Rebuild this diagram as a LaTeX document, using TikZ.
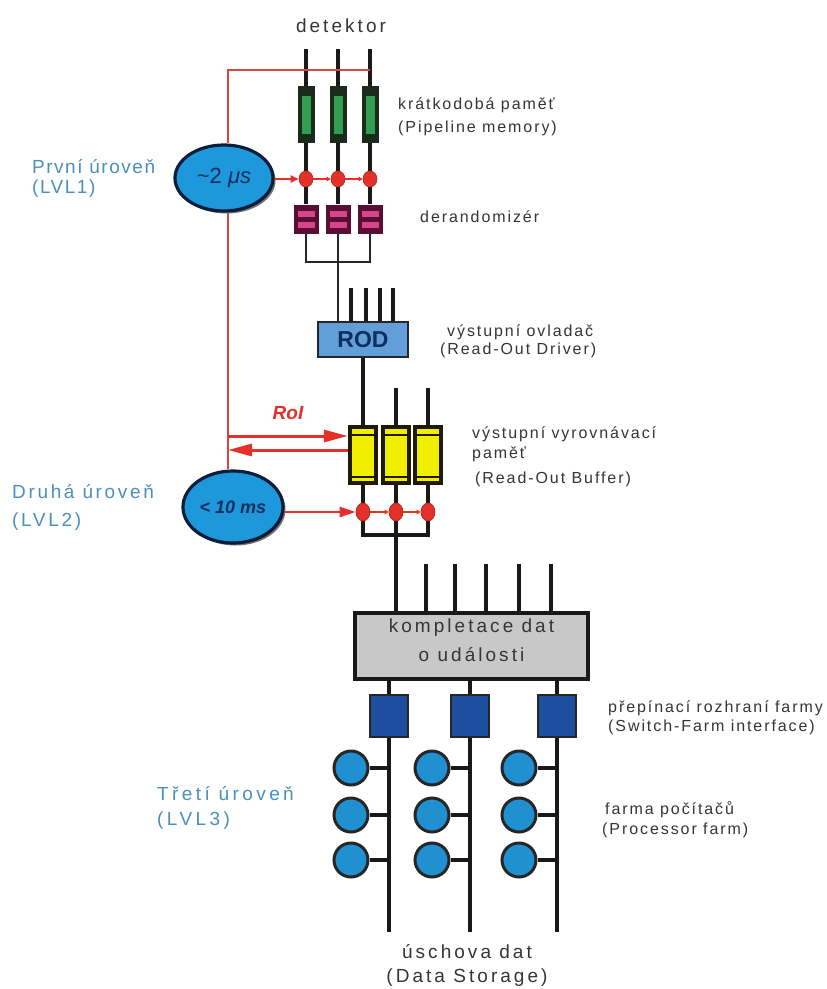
\documentclass[tikz,border=0pt]{standalone}
\usepackage{fontspec}
\setmainfont{Liberation Sans}
\newfontfamily\fR[LetterSpace=12]{Liberation Sans}
\newfontfamily\fW[LetterSpace=16]{Liberation Sans}
\newfontfamily\fN{Liberation Sans}
\usetikzlibrary{arrows.meta,shapes.geometric,shadows}
\definecolor{trig}{HTML}{E3302A}
\definecolor{trigl}{HTML}{D9463F}
\definecolor{lvlblue}{HTML}{4A90BA}
\definecolor{ellblue}{HTML}{1E98DA}
\definecolor{ellnavy}{HTML}{0A1E3A}
\definecolor{navy}{HTML}{0B2F5E}
\definecolor{pipeg}{HTML}{2FA050}
\definecolor{pipedark}{HTML}{1A2A1C}
\definecolor{derdark}{HTML}{5A0E33}
\definecolor{derpink}{HTML}{D6468A}
\definecolor{rodblue}{HTML}{629FD8}
\definecolor{robyel}{HTML}{F2EE00}
\definecolor{robdark}{HTML}{1E1A05}
\definecolor{boxgray}{HTML}{C8C8C8}
\definecolor{sfblue}{HTML}{1E4F9F}
\definecolor{farmblue}{HTML}{2090D0}
\definecolor{txt}{HTML}{353535}
\pgfdeclarelayer{bg}
\pgfsetlayers{bg,main}
\begin{document}
\begin{tikzpicture}[x=1pt,y=-1pt,
  wire/.style={line width=3.6pt, draw=black!90},
  thinwire/.style={line width=2.4pt, draw=black!85},
  redline/.style={line width=2.8pt, draw=trigl},
  redarrow/.style={line width=2pt, draw=trig, -{Triangle[length=8pt,width=7pt]}},
  tinyarrow/.style={line width=1.6pt, draw=trig, -{Triangle[length=4pt,width=4.5pt]}},
  roiarrow/.style={line width=3pt, draw=trig, -{Triangle[length=24pt,width=12pt]}},
  bigarrow/.style={line width=2.4pt, draw=trig, -{Triangle[length=16pt,width=10pt]}},
  lab/.style={inner sep=0pt, anchor=west, align=left, text=txt, font=\fR\fontsize{16}{18}\selectfont},
  lvllab/.style={inner sep=0pt, anchor=west, align=left, text=lvlblue},
  ttl/.style={inner sep=0pt, text=txt, font=\fW\fontsize{19}{24}\selectfont},
  pipe/.style={rectangle, inner sep=0pt, minimum width=17pt, minimum height=57pt, fill=pipedark,
    path picture={\fill[pipeg] ([xshift=4pt,yshift=-10pt]path picture bounding box.north west) rectangle ([xshift=-4pt,yshift=9pt]path picture bounding box.south east);}},
  der/.style={rectangle, inner sep=0pt, minimum width=25pt, minimum height=29pt, fill=derdark,
    path picture={\fill[derpink] ([xshift=4pt,yshift=-6pt]path picture bounding box.north west) rectangle ([xshift=-4pt,yshift=-12pt]path picture bounding box.north east);
      \fill[derpink] ([xshift=4pt,yshift=12pt]path picture bounding box.south west) rectangle ([xshift=-4pt,yshift=6pt]path picture bounding box.south east);}},
  rob/.style={rectangle, inner sep=0pt, minimum width=30pt, minimum height=60pt, fill=robdark,
    path picture={\fill[robyel] ([xshift=4pt,yshift=-4pt]path picture bounding box.north west) rectangle ([xshift=-4pt,yshift=4pt]path picture bounding box.south east);
      \draw[robdark, line width=1.2pt] ([xshift=4pt,yshift=-10pt]path picture bounding box.north west) -- ([xshift=-4pt,yshift=-10pt]path picture bounding box.north east);
      \draw[robdark, line width=1.2pt] ([xshift=4pt,yshift=8pt]path picture bounding box.south west) -- ([xshift=-4pt,yshift=8pt]path picture bounding box.south east);}},
  rdot/.style={ellipse, inner sep=0pt, minimum width=14pt, minimum height=16pt, fill=trig, draw=trig!75!black, line width=0.6pt},
  rdotb/.style={ellipse, inner sep=0pt, minimum width=14pt, minimum height=18pt, fill=trig, draw=trig!75!black, line width=0.6pt},
  rodbox/.style={rectangle, inner sep=0pt, minimum width=90pt, minimum height=35pt, fill=rodblue, draw=black!85, line width=2.4pt, text=navy, font=\fN\bfseries\fontsize{23}{24}\selectfont},
  evbox/.style={rectangle, inner sep=0pt, minimum width=233pt, minimum height=66pt, text depth=11pt, fill=boxgray, draw=black!90, line width=3.4pt, align=center, text=txt, font=\fW\fontsize{19}{29}\selectfont},
  sfbox/.style={rectangle, inner sep=0pt, minimum width=38pt, minimum height=42pt, fill=sfblue, draw=black!85, line width=1.8pt},
  farm/.style={circle, inner sep=0pt, minimum size=34pt, fill=farmblue, draw=black!85, line width=3pt},
  lvlell/.style={ellipse, inner sep=0pt, fill=ellblue, draw=ellnavy, line width=3.2pt, text=navy,
    drop shadow={shadow xshift=2.5pt, shadow yshift=-2.5pt, fill=black!55, opacity=1}},
  roilab/.style={inner sep=0pt, text=trig, font=\fN\bfseries\itshape\fontsize{19}{22}\selectfont}
]
\begin{pgfonlayer}{bg}
\fill[white] (0,0) rectangle (827,989);
\end{pgfonlayer}
\useasboundingbox (0,0) rectangle (827,989);

% ---------- detector part
\node[ttl] (det) at (341,26) {detektor};
\coordinate (d1) at (306,49);
\coordinate (d2) at (338,49);
\coordinate (d3) at (370,49);
\node[pipe] (p1) at (306,114.5) {};
\node[pipe] (p2) at (338,114.5) {};
\node[pipe] (p3) at (370,114.5) {};
\node[rdot] (a1) at (306,179) {};
\node[rdot] (a2) at (338,179) {};
\node[rdot] (a3) at (370,179) {};
\node[der] (q1) at (306,219) {};
\node[der] (q2) at (338,219) {};
\node[der] (q3) at (370,219) {};
\coordinate (j1) at (338,262);
\node[rodbox] (rod) at (363,339.5) {ROD};
\coordinate (ri1) at (351,288);
\coordinate (ri2) at (366,288);
\coordinate (ri3) at (380,288);
\coordinate (ri4) at (393,288);
\node[rob] (b1) at (363,455) {};
\node[rob] (b2) at (396,455) {};
\node[rob] (b3) at (428,455) {};
\coordinate (bi2) at (396,388);
\coordinate (bi3) at (428,388);
\node[rdotb] (e1) at (363,512) {};
\node[rdotb] (e2) at (396,512) {};
\node[rdotb] (e3) at (428,512) {};
\coordinate (j2) at (396,535);
\node[evbox] (evb) at (471.5,646) {kompletace dat\\o události};
\coordinate (ei1) at (426,564);
\coordinate (ei2) at (455,564);
\coordinate (ei3) at (486,564);
\coordinate (ei4) at (519,564);
\coordinate (ei5) at (551,564);
\node[sfbox] (s1) at (389,716) {};
\node[sfbox] (s2) at (470,716) {};
\node[sfbox] (s3) at (557,716) {};
\coordinate (o1) at (389,932);
\coordinate (o2) at (470,932);
\coordinate (o3) at (557,932);
\foreach \r/\y in {1/768,2/815,3/860}{
  \node[farm] (f1\r) at (351,\y) {};
  \node[farm] (f2\r) at (432,\y) {};
  \node[farm] (f3\r) at (519,\y) {};
}

% ---------- trigger ellipses
\node[lvlell, minimum width=98pt, minimum height=66pt, font=\fN\fontsize{22}{24}\selectfont] (l1) at (224,178) {\textasciitilde2 {\itshape μs}};
\node[lvlell, minimum width=100pt, minimum height=72pt, font=\fN\bfseries\itshape\fontsize{18}{20}\selectfont] (l2) at (233,507) {< 10 ms};
\node[roilab] (roi) at (288,413) {RoI};

% ---------- labels
\node[lab, font=\fR\fontsize{16}{23}\selectfont] (lpm) at (398,116.5) {krátkodobá paměť\\(Pipeline memory)};
\node[lab] (lder) at (420,217) {derandomizér};
\node[lab, font=\fR\fontsize{16}{18}\selectfont] (lrod) at (440,341) {\hspace*{7pt}výstupní ovladač\\(Read-Out Driver)};
\node[lab, font=\fR\fontsize{16}{20}\selectfont] (lrob) at (472,457) {výstupní vyrovnávací\\paměť\\[5pt]\hspace*{3pt}(Read-Out Buffer)};
\node[lab, font=\fR\fontsize{16}{19}\selectfont] (lsf) at (608,717.5) {přepínací rozhraní farmy\\(Switch-Farm interface)};
\node[lab, font=\fR\fontsize{16}{20}\selectfont] (lfarm) at (602,820) {\hspace*{3pt}farma počítačů\\(Processor farm)};
\node[lvllab, font=\fN\addfontfeatures{LetterSpace=8}\fontsize{19}{20}\selectfont] (lv1) at (32,178) {První úroveň\\(LVL1)};
\node[lvllab, font=\fN\addfontfeatures{LetterSpace=14}\fontsize{19}{28}\selectfont] (lv2) at (12,507.5) {Druhá úroveň\\(LVL2)};
\node[lvllab, font=\fN\addfontfeatures{LetterSpace=18}\fontsize{19}{25}\selectfont] (lv3) at (157,807.5) {Třetí úroveň\\(LVL3)};
\node[ttl, align=center] (ldata) at (467,965) {úschova dat\\(Data Storage)};

% ---------- connectors
\begin{pgfonlayer}{bg}
\draw[wire] (d1) -- (p1) -- (a1) -- (q1);
\draw[wire] (d2) -- (p2) -- (a2) -- (q2);
\draw[wire] (d3) -- (p3) -- (a3) -- (q3);
\draw[thinwire] (q1) |- (j1) -| (q3);
\draw[thinwire] (q2) -- (j1) -- (j1 |- rod.north);
\foreach \i in {1,...,4} \draw[wire] (ri\i) -- (ri\i |- rod.north);
\draw[wire] (rod) -- (b1);
\draw[wire] (bi2) -- (b2);
\draw[wire] (bi3) -- (b3);
\draw[wire] (b1) -- (e1) |- (j2) -| (e3) -- (b3);
\draw[wire] (b2) -- (e2) -- (j2) -- (j2 |- evb.north);
\foreach \i in {1,...,5} \draw[wire] (ei\i) -- (ei\i |- evb.north);
\foreach \i in {1,2,3} {
  \draw[wire] (evb.south -| s\i) -- (s\i);
  \draw[wire] (s\i) -- (o\i);
  \foreach \r in {1,2,3} \draw[wire] (f\i\r) -- (f\i\r -| s\i);
}
% trigger lines
\coordinate (rt) at (228,70);
\draw[redline] (d3 |- rt) -- (rt) -- (rt |- l1.north);
\draw[redline] (rt |- l1.south) -- (rt |- l2.north);
\end{pgfonlayer}
\draw[redarrow] (l1.east |- a1) -- (a1.west);
\draw[tinyarrow] (a1.east) -- (a2.west);
\draw[tinyarrow] (a2.east) -- (a3.west);
\draw[bigarrow] (l2.east |- e1) -- (e1.west);
\draw[tinyarrow] (e1.east) -- (e2.west);
\draw[tinyarrow] (e2.east) -- (e3.west);
\coordinate (ra) at (228,436);
\coordinate (rb) at (228,450);
\draw[roiarrow] (ra) -- (ra -| b1.west);
\draw[roiarrow] (rb -| b1.west) -- (rb);
\end{tikzpicture}
\end{document}
